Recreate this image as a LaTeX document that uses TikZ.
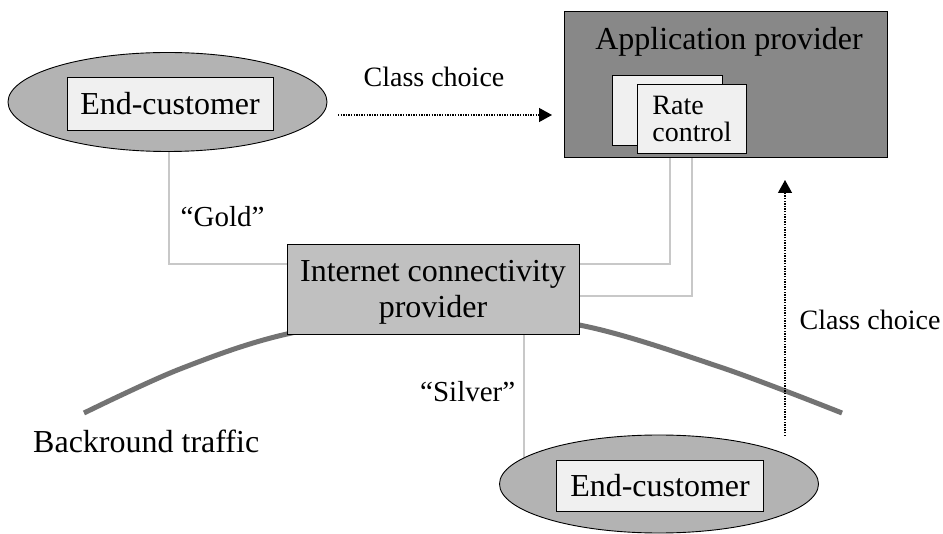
\documentclass[tikz,border=0pt]{standalone}
\usepackage{fontspec}
\setmainfont{Liberation Serif}
\usetikzlibrary{shapes.geometric,arrows.meta,backgrounds}
\definecolor{ellgray}{RGB}{179,179,179}
\definecolor{appgray}{RGB}{136,136,136}
\definecolor{icpgray}{RGB}{192,192,192}
\definecolor{boxwhite}{RGB}{240,240,240}
\definecolor{conngray}{RGB}{200,200,200}
\definecolor{curvegray}{RGB}{115,115,115}
\tikzset{
  custell/.style={ellipse, draw=black, line width=0.9pt, fill=ellgray,
    minimum width=319pt, minimum height=99pt, inner sep=0pt},
  custbox/.style={rectangle, draw=black, line width=0.9pt, fill=boxwhite,
    minimum width=206pt, minimum height=53pt, inner sep=0pt,
    font=\fontsize{32}{36}\selectfont},
  appbox/.style={rectangle, draw=black, line width=0.9pt, fill=appgray,
    minimum width=323pt, minimum height=146pt, inner sep=0pt},
  rcbox/.style={rectangle, draw=black, line width=0.9pt, fill=boxwhite, inner sep=0pt},
  icpbox/.style={rectangle, draw=black, line width=0.9pt, fill=icpgray,
    minimum width=292pt, minimum height=90pt, inner sep=0pt},
  bigtxt/.style={inner sep=0pt, font=\fontsize{32}{36}\selectfont},
  midtxt/.style={inner sep=0pt, font=\fontsize{28}{26.7}\selectfont},
  qtxt/.style={inner sep=0pt, font=\fontsize{29}{32}\selectfont},
  conn/.style={draw=conngray, line width=2.2pt},
  bgcurve/.style={draw=curvegray, line width=5pt},
  dotarrow/.style={line width=1.3pt, dash pattern=on 1.3pt off 1.3pt,
    -{Triangle[length=13pt,width=14pt]}}
}
\begin{document}
\begin{tikzpicture}[x=1pt,y=-1pt]
\useasboundingbox (0,0) rectangle (943,534);
% end-customer (top)
\node[custell] (ell1) at (167.5,102) {};
\node[custbox] (ec1) at (170,103.5) {End-customer};
% end-customer (bottom)
\node[custell, minimum height=98pt] (ell2) at (659,484) {};
\node[custbox, minimum width=206.6pt, minimum height=51.7pt] (ec2) at (660,486) {End-customer};
% application provider
\node[appbox] (app) at (725.5,84) {};
\node[bigtxt, anchor=base] (apptext) at (729,50) {Application provider};
\node[rcbox, minimum width=110pt, minimum height=69.3pt] (rcback) at (667.7,110.35) {};
\node[rcbox, minimum width=108.3pt, minimum height=69pt] (rc) at (691.85,118.8) {};
\node[midtxt, anchor=west, align=left] (rctext) at (652.2,119.25) {Rate\\control};
% internet connectivity provider
\node[icpbox] (icp) at (433,289) {};
\node[bigtxt, align=center] (icptext) at ([yshift=-3.5pt]icp.center) {Internet connectivity\\provider};
% labels
\node[midtxt, anchor=base] (cc1) at (434,86.7) {Class choice};
\node[midtxt, anchor=base west] (cc2) at (799.5,330) {Class choice};
\node[qtxt, anchor=base west] (gold) at (180.5,226.7) {“Gold”};
\node[qtxt, anchor=base west] (silver) at (420,402) {“Silver”};
\node[bigtxt, anchor=base west] (bgtraffic) at (33,453) {Backround traffic};
% dotted arrows
\coordinate (cc1s) at (338,115);
\coordinate (cc1e) at (552,115);
\coordinate (cc2s) at (785,436);
\coordinate (cc2e) at (785,180);
\draw[dotarrow] (cc1s) -- (cc1e);
\draw[dotarrow] (cc2s) -- (cc2e);
\begin{pgfonlayer}{background}
  \fill[white] (0,0) rectangle (943,534);
  \draw[bgcurve] plot[smooth, tension=0.55] coordinates
    {(84,413) (180,369) (287,334) (433,312) (579,325) (720,367) (842,413)};
  \draw[conn] ([xshift=1.5pt]ell1.south) |- ([yshift=25pt]icp.west);
  \draw[conn] ([yshift=25pt]icp.east) -| ([xshift=-22pt]rc.south);
  \draw[conn] ([yshift=-7pt]icp.east) -| (rc.south);
  \draw[conn] ([xshift=91pt]icp.south) -- ([xshift=91pt]icp.south |- ell2.center);
\end{pgfonlayer}
\end{tikzpicture}
\end{document}
